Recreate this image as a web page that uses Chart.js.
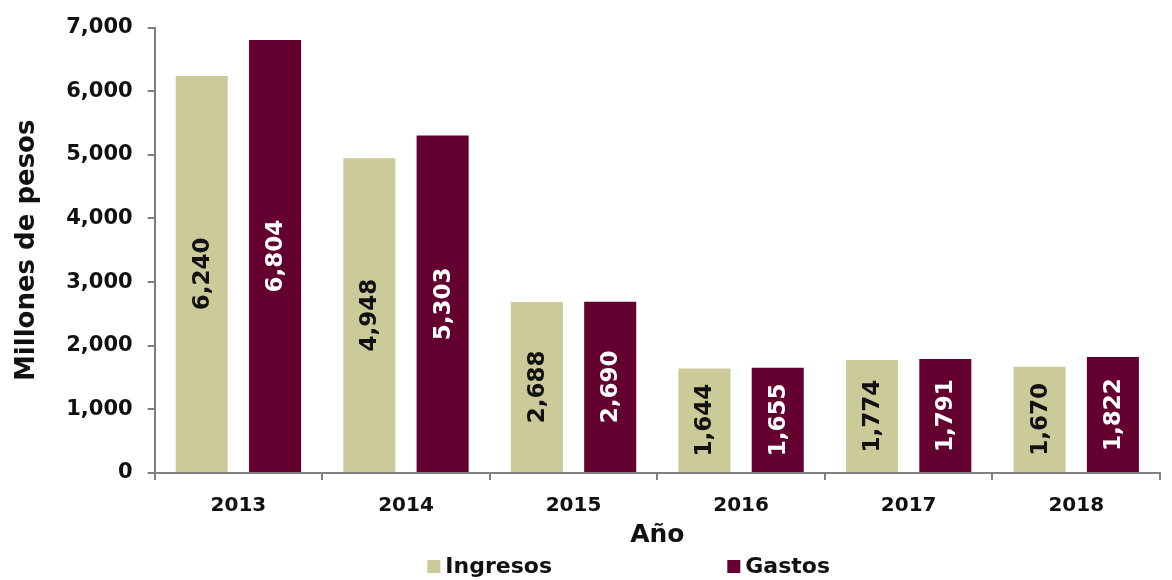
<!DOCTYPE html>
<html>
<head>
<meta charset="utf-8">
<script src="https://cdn.jsdelivr.net/npm/chart.js@4"></script>
<style>
  html, body { margin: 0; padding: 0; background: #fff; }
  #wrap { width: 1172px; height: 580px; }
</style>
</head>
<body>
<div id="wrap"><canvas id="chart" width="1172" height="580"></canvas></div>
<script>
const years = ['2013', '2014', '2015', '2016', '2017', '2018'];
const ingresos = [6240, 4948, 2688, 1644, 1774, 1670];
const gastos = [6804, 5303, 2690, 1655, 1791, 1822];

const fontFam = '"DejaVu Sans", sans-serif';
const axisGray = '#7f7f7f';

// draws the value inside each bar, rotated
const barLabels = {
    id: 'barLabels',
    afterDatasetsDraw(chart) {
        const ctx = chart.ctx;
        chart.data.datasets.forEach((ds, i) => {
            const meta = chart.getDatasetMeta(i);
            meta.data.forEach((bar, j) => {
                const v = ds.data[j];
                const cy = (bar.y + bar.base) / 2;
                ctx.save();
                ctx.translate(bar.x, cy);
                ctx.rotate(-Math.PI / 2);
                ctx.font = 'bold 23px ' + fontFam;
                ctx.fillStyle = ds.labelColor;
                ctx.textAlign = 'center';
                ctx.textBaseline = 'middle';
                ctx.fillText(v.toLocaleString('en-US'), 0, 1);
                ctx.restore();
            });
        });
    }
};

// legend under the axis title, items spread apart like the original
const spreadLegend = {
    id: 'spreadLegend',
    afterDraw(chart) {
        const ctx = chart.ctx;
        const area = chart.chartArea;
        const mid = (area.left + area.right) / 2;
        const offsets = [-230, 70];
        const y = 566;
        ctx.save();
        ctx.font = 'bold 22px ' + fontFam;
        ctx.textBaseline = 'middle';
        chart.data.datasets.forEach((ds, i) => {
            const x = mid + offsets[i];
            ctx.fillStyle = ds.backgroundColor;
            ctx.fillRect(x, y - 6, 13, 13);
            ctx.fillStyle = '#111';
            ctx.fillText(ds.label, x + 18, y + 1);
        });
        ctx.restore();
    }
};

new Chart(document.getElementById('chart'), {
    type: 'bar',
    data: {
        labels: years,
        datasets: [
            { label: 'Ingresos', data: ingresos, backgroundColor: '#cbca99', labelColor: '#111' },
            { label: 'Gastos', data: gastos, backgroundColor: '#640030', labelColor: '#fff' }
        ]
    },
    options: {
        responsive: false,
        animation: false,
        categoryPercentage: 0.875,
        barPercentage: 0.71,
        layout: { padding: { top: 9, right: 12, left: 8, bottom: 30 } },
        plugins: {
            tooltip: { enabled: false },
            legend: { display: false }
        },
        scales: {
            x: {
                grid: { drawOnChartArea: false, drawTicks: true, tickLength: 7, color: axisGray, lineWidth: 2 },
                border: { display: true, color: axisGray, width: 2 },
                ticks: { color: '#111', padding: 14, font: { family: fontFam, size: 20, weight: 'bold' } },
                title: { display: true, text: 'Año', color: '#111', padding: { top: -12, bottom: 0 },
                         font: { family: fontFam, size: 25, weight: 'bold' } }
            },
            y: {
                min: 0, max: 7000,
                ticks: { stepSize: 1000, color: '#111', padding: 15,
                         font: { family: fontFam, size: 21, weight: 'bold' },
                         callback: v => v.toLocaleString('en-US') },
                grid: { drawOnChartArea: false, drawTicks: true, tickLength: 7, color: axisGray, lineWidth: 2 },
                border: { display: true, color: axisGray, width: 2 },
                title: { display: true, text: 'Millones de pesos', color: '#111', padding: { bottom: 8 },
                         font: { family: fontFam, size: 26, weight: 'bold' } }
            }
        }
    },
    plugins: [barLabels, spreadLegend]
});
</script>
</body>
</html>
